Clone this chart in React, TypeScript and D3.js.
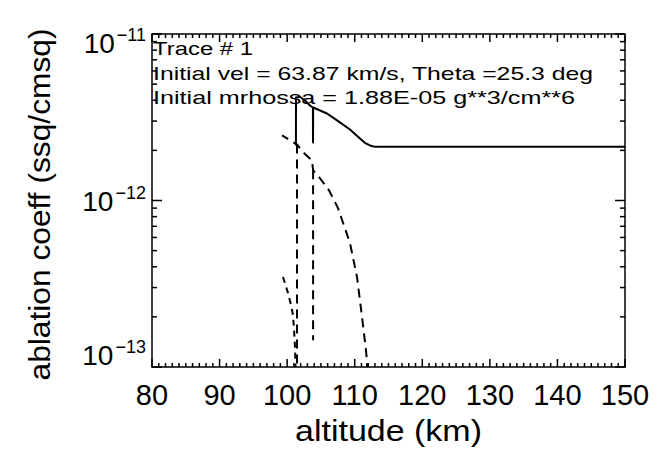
import * as d3 from 'd3';

// altitude (km) / ablation coeff pairs
const solidAlt = [150, 113.3, 112.8, 112.26, 111.5, 110.78, 109.3, 107.38, 105.9, 103.85, 103.83, 103.81, 103.38, 102.64, 101.9, 101.31, 101.3];
const solidVal = [2.1e-12, 2.1e-12, 2.11e-12, 2.14e-12, 2.22e-12, 2.36e-12, 2.67e-12, 3.03e-12, 3.33e-12, 3.62e-12, 2.23e-12, 3.62e-12, 3.72e-12, 3.99e-12, 4.2e-12, 4.16e-12, 2.14e-12];

const dashAlt = [111.95, 111.82, 111.67, 111.08, 110.34, 109.3, 107.53, 106.2, 104.86, 103.84, 103.68, 102.35, 101.46, 99.24];
const dashVal = [5e-14, 1.07e-13, 1.26e-13, 2.0e-13, 3.47e-13, 5.55e-13, 9.0e-13, 1.15e-12, 1.36e-12, 1.52e-12, 1.74e-12, 1.95e-12, 2.17e-12, 2.46e-12];

// dashed spike at 103.8 km
const spikeAlt = [103.84, 103.84];
const spikeVal = [1.52e-12, 1.45e-13];

const dropAlt = [101.46, 101.46];
const dropVal = [2.17e-12, 5e-14];

const tailAlt = [99.39, 100.13, 100.57, 100.87, 101.02, 101.16, 101.3];
const tailVal = [3.47e-13, 2.78e-13, 2.36e-13, 2.05e-13, 1.67e-13, 1.32e-13, 8e-14];

const xTicks = [80, 90, 100, 110, 120, 130, 140, 150];
const yDecades = [-13, -12, -11];

const infoLines = [
  'Trace # 1',
  'Initial vel = 63.87 km/s, Theta =25.3 deg',
  'Initial mrhossa = 1.88E-05 g**3/cm**6',
];
const infoWidths = [100, 440, 422];

const FONT = '"Liberation Sans", Arial, sans-serif';

const width = 664;
const height = 452;
const left = 152, right = 625, top = 34, bottom = 367;

export default function App() {
  const x = d3.scaleLinear().domain([80, 150]).range([left, right]);
  const y = d3.scaleLog().domain([1e-13, 1e-11]).range([bottom, top]);

  const line = d3.line<[number, number]>()
    .x(d => x(d[0]))
    .y(d => y(d[1]));

  const series = [
    { alt: solidAlt, val: solidVal, dash: undefined },
    { alt: dashAlt, val: dashVal, dash: '9,6' },
    { alt: spikeAlt, val: spikeVal, dash: '9,6' },
    { alt: dropAlt, val: dropVal, dash: '9,6' },
    { alt: tailAlt, val: tailVal, dash: '6,5' },
  ];

  // ticks: x minor every km (bottom + top), y log minors (left + right)
  const xMinor = d3.range(80, 151, 1);
  const yMinor: { v: number; len: number }[] = [];
  yDecades.forEach(d => {
    yMinor.push({ v: Math.pow(10, d), len: 10 });
    if (d < -11) {
      for (let k = 2; k <= 9; k++) yMinor.push({ v: k * Math.pow(10, d), len: 5 });
    }
  });

  return (
    <svg width={width} height={height} style={{ position: 'absolute', left: 0, top: 0, display: 'block', background: '#fff' }}>
      <defs>
        <clipPath id="plotclip">
          <rect x={left} y={top} width={right - left} height={bottom - top} />
        </clipPath>
      </defs>

      <g clipPath="url(#plotclip)">
        {series.map((s, i) => (
          <path key={i}
            d={line(s.alt.map((a, j) => [a, s.val[j]] as [number, number])) || ''}
            fill="none" stroke="#000" strokeWidth={2} strokeLinejoin="round"
            strokeDasharray={s.dash} />
        ))}
      </g>

      <rect x={left} y={top} width={right - left} height={bottom - top}
        fill="none" stroke="#000" strokeWidth={1.5} />

      <g stroke="#000" strokeWidth={1.5}>
        {xMinor.map(v => {
          const len = v % 10 === 0 ? 8 : 4;
          return (
            <g key={'x' + v}>
              <line x1={x(v)} x2={x(v)} y1={bottom} y2={bottom - len} />
              <line x1={x(v)} x2={x(v)} y1={top} y2={top + len} />
            </g>
          );
        })}
        {yMinor.map((t, i) => (
          <g key={'y' + i}>
            <line x1={left} x2={left + t.len} y1={y(t.v)} y2={y(t.v)} />
            <line x1={right} x2={right - t.len} y1={y(t.v)} y2={y(t.v)} />
          </g>
        ))}
      </g>

      {xTicks.map(v => (
        <text key={v} x={x(v)} y={405} textAnchor="middle" fontFamily={FONT} fontSize={29}>{v}</text>
      ))}

      {yDecades.map(d => {
        const base = Math.max(53, Math.min(365, y(Math.pow(10, d)) + 10));
        return (
          <text key={d} x={146} y={base} textAnchor="end" fontFamily={FONT}>
            <tspan fontSize={28}>10</tspan>
            <tspan fontSize={18} dy={-12} dx={2}>{'\u2212' + Math.abs(d)}</tspan>
          </text>
        );
      })}

      <text x={(left + right) / 2} y={441} textAnchor="middle" fontFamily={FONT} fontSize={29}
        textLength={187} lengthAdjust="spacingAndGlyphs">altitude (km)</text>

      <text transform={`translate(50,${(top + bottom) / 2 + 4}) rotate(-90)`} textAnchor="middle"
        fontFamily={FONT} fontSize={29} textLength={352} lengthAdjust="spacingAndGlyphs">
        ablation coeff (ssq/cmsq)
      </text>

      {infoLines.map((s, i) => (
        <text key={i} x={153} y={55 + i * 24.5} fontFamily={FONT} fontSize={19}
          textLength={infoWidths[i]} lengthAdjust="spacingAndGlyphs">{s}</text>
      ))}
    </svg>
  );
}
